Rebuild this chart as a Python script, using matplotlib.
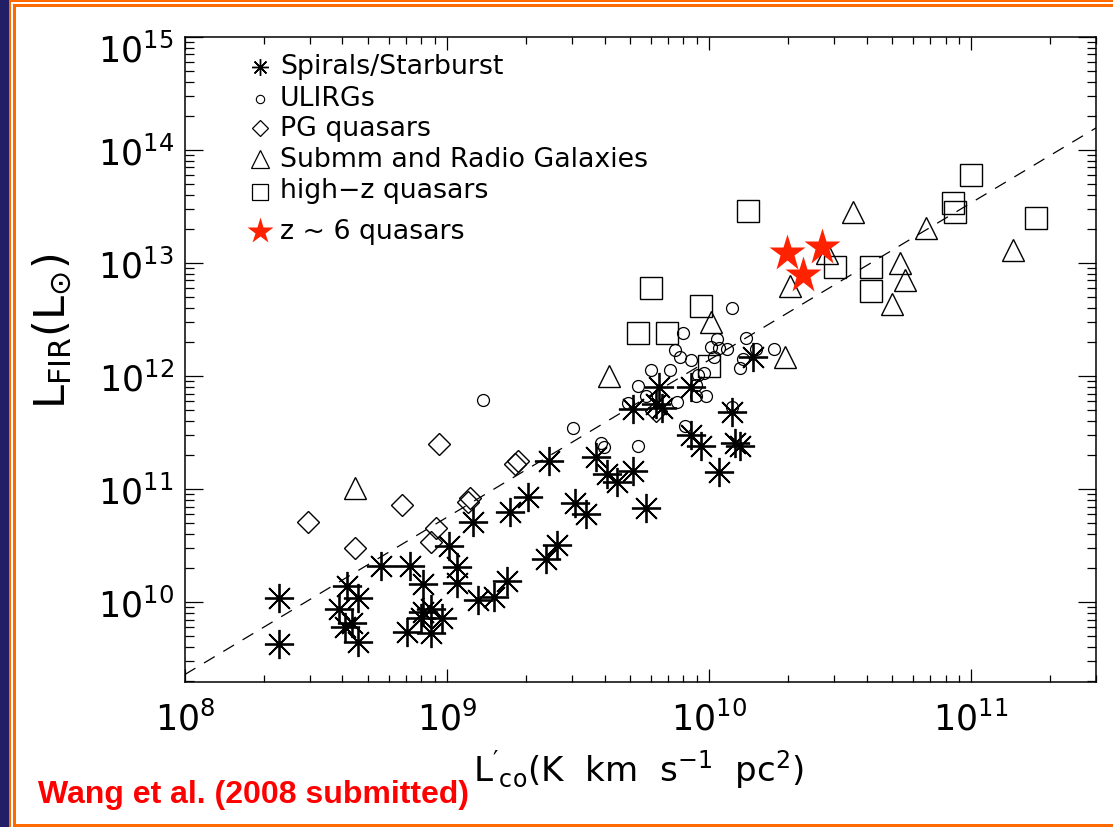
import numpy as np
import matplotlib
matplotlib.use("Agg")
import matplotlib.pyplot as plt
from matplotlib.patches import Rectangle
from matplotlib.ticker import NullFormatter
from matplotlib.transforms import ScaledTranslation

# log10 L'CO and log10 L_FIR
spiral_lco = [8.36, 8.36, 8.62, 8.66, 8.59, 8.61, 8.64, 8.66, 8.75, 8.86, 8.91, 8.91,
              8.94, 8.98, 8.85, 8.94, 8.90, 9.01, 9.04, 9.04, 9.10, 9.12, 9.18, 9.23,
              9.24, 9.31, 9.38, 9.42, 9.39, 9.49, 9.53, 9.57, 9.61, 9.65, 9.71, 9.71,
              9.76, 9.80, 9.82, 9.81, 9.93, 10.17, 10.09, 9.93, 9.97, 10.10, 10.12, 10.04]
spiral_lfir = [10.04, 9.63, 10.14, 10.04, 9.94, 9.78, 9.82, 9.65, 10.32, 10.32, 10.16, 9.91,
               9.94, 9.86, 9.74, 9.73, 9.86, 10.50, 10.31, 10.17, 10.71, 10.02, 10.05, 10.19,
               10.80, 10.93, 10.38, 10.51, 11.25, 10.88, 10.78, 11.28, 11.13, 11.06, 11.16, 11.71,
               10.83, 11.75, 11.72, 11.90, 11.90, 12.17, 11.68, 11.48, 11.38, 11.41, 11.38, 11.15]

ulirg_lco = [9.14, 9.48, 9.59, 9.60, 9.69, 9.73, 9.73, 9.78, 9.76, 10.09, 9.90, 9.87,
             9.89, 9.93, 10.03, 10.01, 10.04, 10.07, 10.14, 10.18, 10.25, 10.13, 10.12,
             9.85, 9.96, 9.98, 9.95, 9.95, 9.99, 9.88, 9.91, 10.09, 10.02]
ulirg_lfir = [11.79, 11.54, 11.41, 11.37, 11.76, 11.38, 11.91, 12.05, 11.82, 12.60, 12.38, 12.23,
              12.17, 12.14, 12.33, 12.26, 12.25, 12.24, 12.34, 12.24, 12.24, 12.15, 12.07,
              12.05, 12.01, 12.03, 11.92, 11.82, 11.82, 11.77, 11.56, 11.73, 12.17]

pg_lco = [8.97, 8.47, 8.83, 8.65, 8.96, 8.94, 9.08, 9.09, 9.27, 9.26, 9.80]
pg_lfir = [11.40, 10.71, 10.86, 10.48, 10.66, 10.53, 10.89, 10.92, 11.25, 11.22, 11.69]

smg_lco = [8.65, 9.62, 10.01, 10.55, 10.31, 10.45, 10.29, 10.83, 10.73, 10.75, 10.70, 11.16]
smg_lfir = [11.01, 12.00, 12.48, 13.45, 12.80, 13.09, 12.17, 13.31, 13.00, 12.85, 12.64, 13.11]

hiz_lco = [10.15, 9.78, 9.97, 9.73, 9.84, 10.00, 10.48, 10.62, 10.62, 11.00, 10.93, 10.94, 11.25]
hiz_lfir = [13.46, 12.78, 12.62, 12.38, 12.38, 12.09, 12.96, 12.96, 12.75, 13.78, 13.53, 13.45, 13.40]

z6_lco = [10.30, 10.43, 10.36]
z6_lfir = [13.09, 13.14, 12.89]

# dashed fit: log LFIR = slope * log L'CO + icept
fit_slope = 1.39
fit_icept = -1.76

legend_labels = ["Spirals/Starburst", "ULIRGs", "PG quasars",
                 "Submm and Radio Galaxies", "high\u2212z quasars", "z ~ 6 quasars"]

xtick_vals = [1e8, 1e9, 1e10, 1e11]
xtick_labels = [r"$10^{8}$", r"$10^{9}$", r"$10^{10}$", r"$10^{11}$"]
ytick_vals = [1e10, 1e11, 1e12, 1e13, 1e14, 1e15]
ytick_labels = [r"$10^{10}$", r"$10^{11}$", r"$10^{12}$", r"$10^{13}$", r"$10^{14}$", r"$10^{15}$"]

W, H = 1113, 828
plt.rcParams['font.family'] = ['DejaVu Sans']
plt.rcParams['mathtext.default'] = 'regular'

fig = plt.figure(figsize=(W / 100, H / 100), dpi=100, facecolor='#221f66')

def px_rect(x0, y0, x1, y1, color):
    # pixel box (top-left origin) -> figure rectangle
    r = Rectangle((x0 / W, 1 - y1 / H), (x1 - x0) / W, (y1 - y0) / H,
                  transform=fig.transFigure, facecolor=color, edgecolor='none', zorder=-10)
    fig.add_artist(r)

orange = '#ff6a00'
px_rect(9, 1, W + 5, H + 5, orange)
px_rect(11, 3, W + 5, H + 5, 'white')
px_rect(13, 5, W + 5, H + 5, orange)
px_rect(16, 8, W + 5, 825, 'white')

ax = fig.add_axes([184.7 / W, 1 - 683 / H, 911.3 / W, 645.3 / H])
ax.set_xscale('log')
ax.set_yscale('log')
ax.set_xlim(1e8, 3e11)
ax.set_ylim(1.97e9, 1e15)

ax.plot(10 ** np.array(spiral_lco), 10 ** np.array(spiral_lfir), ls='none',
        marker=(8, 2, 0), ms=21, mec='black', mew=1.3, color='black')
ax.plot(10 ** np.array(ulirg_lco), 10 ** np.array(ulirg_lfir), ls='none', marker='o',
        ms=8.6, mfc='none', mec='black', mew=0.9)
ax.plot(10 ** np.array(pg_lco), 10 ** np.array(pg_lfir), ls='none', marker='D',
        ms=11, mfc='none', mec='black', mew=1.0)
ax.plot(10 ** np.array(smg_lco), 10 ** np.array(smg_lfir), ls='none', marker='^',
        ms=16, mfc='none', mec='black', mew=1.0)
ax.plot(10 ** np.array(hiz_lco), 10 ** np.array(hiz_lfir), ls='none', marker='s',
        ms=16, mfc='none', mec='black', mew=1.0)
ax.plot(10 ** np.array(z6_lco), 10 ** np.array(z6_lfir), ls='none', marker='*',
        ms=28, mfc='#ff2200', mec='none', zorder=5)

lx = np.array([8.0, 11.5])
ax.plot(10 ** lx, 10 ** (fit_slope * lx + fit_icept), color='black', lw=0.9,
        ls=(0, (10, 8)))

# legend drawn by hand, IDL style
mark_y = [0.9535, 0.9035, 0.8585, 0.8105, 0.7594, 0.6989]
text_y = [0.9437, 0.8942, 0.8477, 0.7996, 0.7516, 0.6881]
styles = [dict(marker=(8, 2, 0), ms=12, mec='black', mew=1.0),
          dict(marker='o', ms=6, mfc='none', mec='black', mew=0.8),
          dict(marker='D', ms=8.5, mfc='none', mec='black', mew=0.9),
          dict(marker='^', ms=13, mfc='none', mec='black', mew=0.9),
          dict(marker='s', ms=11, mfc='none', mec='black', mew=0.9),
          dict(marker='*', ms=20, mfc='#ff2200', mec='none')]
for lab, my, ty, st in zip(legend_labels, mark_y, text_y, styles):
    ax.plot([0.0826], [my], transform=ax.transAxes, ls='none', clip_on=False, **st)
    ax.text(0.1046, ty, lab, transform=ax.transAxes, fontsize=19.3, va='baseline', ha='left')

ax.set_xticks(xtick_vals)
ax.set_xticklabels(xtick_labels)
ax.set_yticks(ytick_vals)
ax.set_yticklabels(ytick_labels)
ax.xaxis.set_minor_formatter(NullFormatter())
ax.yaxis.set_minor_formatter(NullFormatter())
ax.tick_params(which='both', direction='in', top=True, right=True, width=0.9, labelsize=25)
ax.tick_params(axis='x', which='major', length=9.5, pad=13)
ax.tick_params(axis='x', which='minor', length=5)
ax.tick_params(axis='y', which='major', length=13, pad=8)
ax.tick_params(axis='y', which='minor', length=6.5)
for s in ax.spines.values():
    s.set_linewidth(1.1)

# the top y label sits a little lower in the original
top_lab = ax.get_yticklabels()[-1]
top_lab.set_transform(top_lab.get_transform() + ScaledTranslation(0, -10 / 100, fig.dpi_scale_trans))

fig.text(638 / W, 1 - 782 / H, r"$L'_{co}$(K  km  s$^{-1}$  pc$^{2}$)",
         fontsize=24.5, ha='center', va='baseline')
fig.text(52 / W, 1 - 331 / H, r"$L_{FIR}(L_{\odot})$", fontsize=31, rotation=90,
         ha='center', va='center')
fig.text(38 / W, 1 - 803 / H, "Wang et al. (2008 submitted)", color='#ff0000',
         fontsize=23, fontweight='bold', family='Liberation Sans', ha='left', va='baseline')

fig.savefig('out.png', dpi=100, facecolor=fig.get_facecolor())
